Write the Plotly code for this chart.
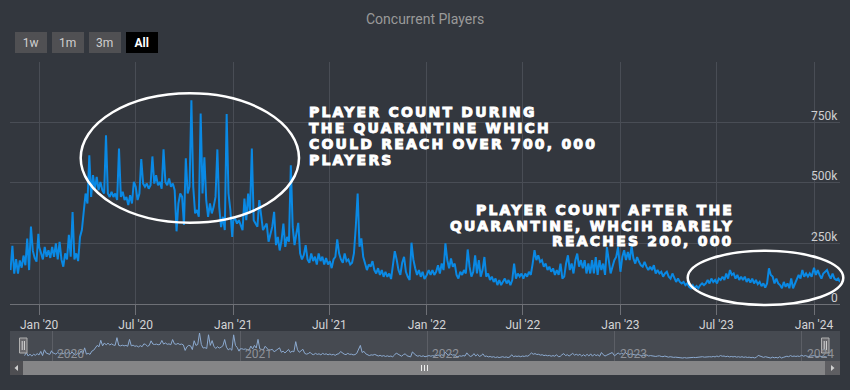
import pandas as pd
import plotly.graph_objects as go

# ---------------- data (thousands of concurrent players, ~2 samples per week) -------------
title_text = "Concurrent Players"
v2019 = [140, 240, 125, 185, 125, 180, 150, 200, 160, 270, 140, 320, 220, 190, 175, 290]
v2020 = [236, 209, 184, 236, 195, 222, 190, 236, 195, 250, 184, 257, 184, 154, 209, 184, 285, 195, 380, 184,
         209, 177, 277, 305, 373, 456, 415, 614, 442, 532, 470, 525, 470, 504, 470, 456, 696, 456, 442, 463,
         442, 456, 429, 642, 442, 463, 429, 442, 408, 449, 415, 504, 484, 429, 456, 598, 497,
         484, 497, 476, 490, 609, 497, 532, 490, 504, 476, 638, 504, 490, 518, 484, 497, 470, 300, 415, 456,
         442, 326, 601, 456, 484, 841, 484, 374, 388, 360, 786, 456, 605, 429, 360, 415, 374, 401, 442, 638,
         401, 317, 360, 305, 784, 456, 388, 277]
v2021 = [346, 353, 332, 346, 326, 305, 435, 346, 456, 374, 642, 346, 332, 319, 429, 374, 305, 319, 332, 257,
         291, 319, 380, 243, 277, 221, 263, 332,
         236, 277, 257, 573, 319, 243, 291, 335, 209, 184, 202, 243, 184, 170, 209, 177, 195, 163, 209, 177,
         195, 163, 190, 163, 177, 148, 184, 195, 267, 209, 184, 170, 209, 177, 184, 163, 170, 209, 319, 456,
         236, 271, 195, 170, 140, 163, 154, 177, 140, 126, 148, 120, 140, 112, 133, 112, 126, 103, 154, 218,
         184, 140, 120, 170, 195, 133, 112, 99, 253, 184, 148, 120, 140, 112, 133, 103]
v2022 = [120, 140, 120, 140, 120, 133, 160, 126, 167, 140, 250, 181, 147, 188, 154, 167, 120, 105, 133, 120,
         140, 126, 225, 154, 113, 133, 201, 126, 181, 113, 140, 194, 113, 126, 99, 113, 91, 105, 78, 99,
         78, 91, 105, 85, 99, 78, 99, 167, 105, 126, 113, 126, 105, 126, 113, 133, 120, 167, 222, 181,
         201, 174, 181, 154, 167, 140, 154, 133, 147, 120, 140, 120, 167, 105,
         113, 167, 201, 140, 167, 126, 181, 208, 154, 181, 147, 181, 126, 167, 126, 181, 126, 194, 120, 181,
         140, 167, 120, 235, 167, 126, 154, 181, 194, 235]
v2023 = [133, 194, 222, 181, 215, 181, 240, 188, 167, 194, 174, 160, 154, 174, 154, 140, 154, 140, 160, 126,
         140, 126, 133, 113, 126, 133, 113, 105, 126, 105, 91, 105, 91, 85, 91, 78, 85, 71, 65, 78,
         65, 74, 65, 78, 85, 78,
         85, 99, 85, 105, 91, 99, 85, 105, 99, 113, 99, 126, 105, 140, 120, 126, 105, 120, 99, 113,
         99, 113, 91, 105, 88, 105, 85, 99, 82, 91, 74, 85, 68, 85, 147, 120, 113, 85, 105, 85,
         78, 65, 91, 71, 85, 65, 105, 65, 85, 99, 120, 105, 140, 113, 126, 113, 126, 113]
v2024 = [150, 120, 140, 120, 105, 126, 133, 140, 120, 105, 126, 105, 99, 105, 91]
segment_starts = ["2019-11-08", "2020-01-01", "2021-01-01", "2022-01-01", "2023-01-01", "2024-01-01"]
segments = [v2019, v2020, v2021, v2022, v2023, v2024]

x_tickvals = ["2020-01-01", "2020-07-01", "2021-01-01", "2021-07-01", "2022-01-01", "2022-07-01",
              "2023-01-01", "2023-07-01", "2024-01-01"]
x_ticktext = ["Jan '20", "Jul '20", "Jan '21", "Jul '21", "Jan '22", "Jul '22", "Jan '23", "Jul '23", "Jan '24"]
y_tickvals = [0, 250000, 500000, 750000, 1000000]
y_ticktext = ["0", "250k", "500k", "750k", ""]
buttons = ["1w", "1m", "3m", "All"]
nav_years = ["2020", "2021", "2022", "2023", "2024"]
note1 = ["PLAYER COUNT DURING", "THE QUARANTINE WHICH", "COULD REACH OVER 700, 000", "PLAYERS"]
note2 = ["PLAYER COUNT AFTER THE", "QUARANTINE, WHCIH BARELY", "REACHES 200, 000"]

dates, values = [], []
for start, seg in zip(segment_starts, segments):
    dates.extend(pd.date_range(start, periods=len(seg), freq="84h"))
    values.extend([v * 1000 for v in seg])

# ---------------- styling -------------
W, H = 850, 390
BG = "#33373e"
GRID = "#494d55"
LINE = "#0a89e4"
X_RANGE = ["2019-11-07", "2024-02-19"]
Y_RANGE = [0, 1000000]
Y_TOP, Y_BOT = 61.7, 304.0


def px(x):
    return x / W


def py(y):
    return 1 - y / H


fig = go.Figure()
fig.add_trace(go.Scatter(x=dates, y=values, mode="lines", line=dict(color=LINE, width=2),
                         xaxis="x", yaxis="y", hoverinfo="skip"))
fig.add_trace(go.Scatter(x=dates, y=values, mode="lines", line=dict(color="#8caad0", width=1),
                         xaxis="x2", yaxis="y2", hoverinfo="skip"))

shapes = []
# navigator background
shapes.append(dict(type="rect", xref="paper", yref="paper", x0=px(10), x1=px(840), y0=py(361), y1=py(331),
                   fillcolor="#464a51", line=dict(width=0), layer="below"))
# scrollbar
shapes.append(dict(type="rect", xref="paper", yref="paper", x0=px(10), x1=px(23), y0=py(375), y1=py(361),
                   fillcolor="#4e4e52", line=dict(width=0)))
shapes.append(dict(type="rect", xref="paper", yref="paper", x0=px(23), x1=px(825), y0=py(375), y1=py(361),
                   fillcolor="#858587", line=dict(width=0)))
shapes.append(dict(type="rect", xref="paper", yref="paper", x0=px(825), x1=px(840), y0=py(375), y1=py(361),
                   fillcolor="#5e5e62", line=dict(width=0)))
shapes.append(dict(type="path", xref="paper", yref="paper",
                   path=f"M {px(18)} {py(365)} L {px(14.5)} {py(368)} L {px(18)} {py(371)} Z",
                   fillcolor="#cfcfcf", line=dict(width=0)))
shapes.append(dict(type="path", xref="paper", yref="paper",
                   path=f"M {px(831)} {py(365)} L {px(834.5)} {py(368)} L {px(831)} {py(371)} Z",
                   fillcolor="#cfcfcf", line=dict(width=0)))
for gx in (421.5, 424.5, 427.5):
    shapes.append(dict(type="line", xref="paper", yref="paper", x0=px(gx), x1=px(gx), y0=py(365), y1=py(371),
                       line=dict(color="#eeeeee", width=1)))
# navigator handles
for hx in (19.5, 821.5):
    shapes.append(dict(type="rect", xref="paper", yref="paper", x0=px(hx), x1=px(hx + 7.5), y0=py(353), y1=py(338),
                       fillcolor="#69696d", line=dict(color="#b0b0b0", width=1)))
    for lx in (hx + 2.7, hx + 4.9):
        shapes.append(dict(type="line", xref="paper", yref="paper", x0=px(lx), x1=px(lx), y0=py(341), y1=py(350),
                           line=dict(color="#d8d8d8", width=1)))
# ellipses
shapes.append(dict(type="circle", xref="paper", yref="paper", x0=px(80.7), x1=px(299), y0=py(222.7), y1=py(93.3),
                   line=dict(color="white", width=2.5)))
shapes.append(dict(type="circle", xref="paper", yref="paper", x0=px(687.7), x1=px(843.3), y0=py(305), y1=py(250.7),
                   line=dict(color="white", width=2.5)))

annotations = []
annotations.append(dict(text=title_text, xref="paper", yref="paper", x=px(425), y=py(19), xanchor="center",
                        yanchor="middle", showarrow=False, font=dict(family="Roboto", size=14, color="#9a9a9a")))
bx = [15.2, 52, 89, 125.7]
for i, (b, x0) in enumerate(zip(buttons, bx)):
    active = b == "All"
    annotations.append(dict(text=f"<b>{b}</b>" if active else b, xref="paper", yref="paper", x=px(x0), y=py(32.3),
                            xanchor="left", yanchor="top", width=31.5, height=21, borderpad=0, borderwidth=0,
                            bgcolor="#000000" if active else "#505053", align="center", valign="middle",
                            showarrow=False,
                            font=dict(family="Roboto", size=12, color="#ffffff" if active else "#cfcfcf")))
for yr in nav_years:
    annotations.append(dict(text=yr, xref="x2", yref="paper", x=f"{yr}-01-01", y=py(353.5), xanchor="left",
                            yanchor="middle", xshift=3, showarrow=False,
                            font=dict(family="Roboto", size=12, color="#8e9198")))
# y-axis labels (right side, just above each grid line)
for tv, tt in zip(y_tickvals, y_ticktext):
    if tt:
        annotations.append(dict(text=tt, xref="paper", yref="y", x=px(839.5), y=tv, xanchor="right",
                                yanchor="middle", yshift=6.5, showarrow=False,
                                font=dict(family="Roboto", size=12, color="#cfcfd1")))

STY = "letter-spacing:2.2px;stroke:#ffffff;stroke-width:0.9px"
for line, cy in zip(note1, [112.5, 128.3, 144.3, 160]):
    annotations.append(dict(text=f'<span style="{STY}">{line}</span>', xref="paper", yref="paper", x=px(306.5),
                            y=py(cy), xanchor="left", yanchor="middle", showarrow=False,
                            font=dict(family="DejaVu Sans", size=14, color="white", weight="bold")))
for line, cy in zip(note2, [210.3, 226, 241]):
    annotations.append(dict(text=f'<span style="{STY}">{line}</span>', xref="paper", yref="paper", x=px(736),
                            y=py(cy), xanchor="right", yanchor="middle", showarrow=False,
                            font=dict(family="DejaVu Sans", size=14, color="white", weight="bold")))

fig.update_layout(
    width=W, height=H, margin=dict(l=0, r=0, t=0, b=0),
    paper_bgcolor=BG, plot_bgcolor=BG, showlegend=False,
    shapes=shapes, annotations=annotations,
    xaxis=dict(domain=[px(10), px(840)], range=X_RANGE, type="date", anchor="y",
               tickvals=x_tickvals, ticktext=x_ticktext,
               showgrid=True, gridcolor=GRID, gridwidth=1, ticks="outside", ticklen=10,
               tickcolor="#6e7076", showline=True, linecolor="#6e7076", linewidth=1, zeroline=False,
               tickfont=dict(family="Roboto", size=12, color="#d4d4d6")),
    yaxis=dict(domain=[py(Y_BOT), py(Y_TOP)], range=Y_RANGE, side="right", anchor="x",
               tickvals=y_tickvals, showticklabels=False,
               showgrid=True, gridcolor=GRID, zeroline=False, showline=False, ticks=""),
    xaxis2=dict(domain=[px(24.1), px(826.9)], range=X_RANGE, type="date", anchor="y2",
                dtick="M12", tick0="2020-01-01", showgrid=True, gridcolor="#5c5f66",
                showticklabels=False, ticks="", showline=False, zeroline=False),
    yaxis2=dict(domain=[py(361), py(331)], range=[-28000, 903000], visible=False, showgrid=False,
                zeroline=False),
)

fig.write_html("out.html", config={"displayModeBar": False, "staticPlot": True},
               post_script="document.body.style.margin='0';document.body.style.background='%s';" % BG)
